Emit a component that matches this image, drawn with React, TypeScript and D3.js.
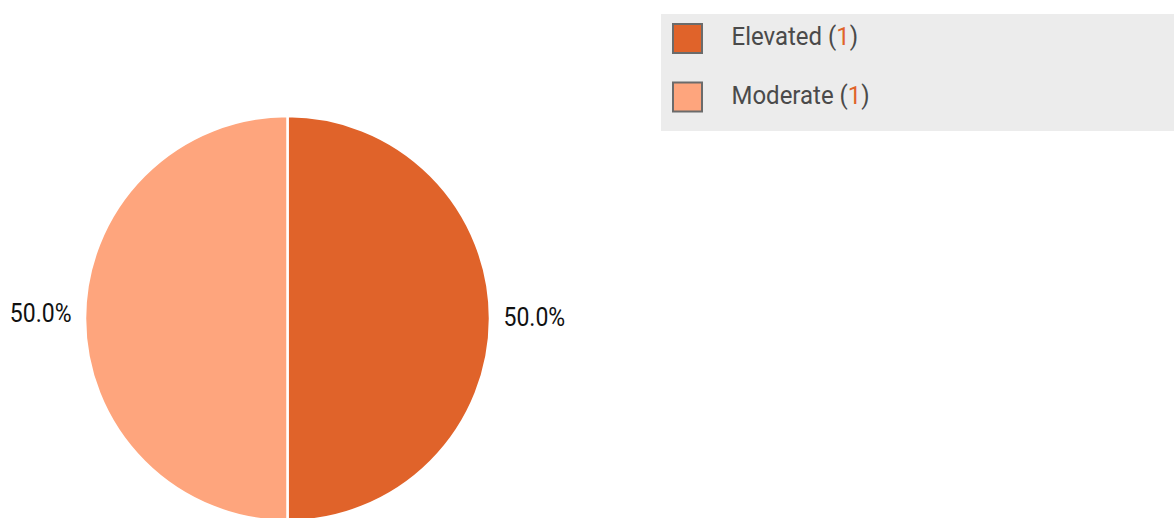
import React from "react";
import * as d3 from "d3";

const categories = ["Elevated", "Moderate"];
const values = [1, 1];
const colors = ["#e0632a", "#fea57d"];

const W = 1174;
const H = 518;
const FONT = "Roboto, 'Liberation Sans', sans-serif";
const SX = 0.885;
const LSX = 0.905;

export default function App() {
  const cx = 287.5;
  const cy = 318.5;
  const r = 202.5;
  const total = d3.sum(values);
  const pie = d3.pie<number>().sort(null).value((d) => d);
  const arcs = pie(values);
  const arc = d3.arc<d3.PieArcDatum<number>>().innerRadius(0).outerRadius(r);
  const fmt = d3.format(".1%");

  const legendY = d3.scalePoint<string>().domain(categories).range([38.5, 97]);

  return (
    <svg
      width={W}
      height={H}
      style={{ position: "absolute", left: 0, top: 0, background: "#fff" }}
    >
      <g transform={`translate(${cx},${cy})`}>
        {arcs.map((a, i) => (
          <path key={i} d={arc(a) || ""} fill={colors[i]} stroke="#fff" strokeWidth={2.5} />
        ))}
        {arcs.map((a, i) => {
          const mid = (a.startAngle + a.endAngle) / 2;
          const lr = r + 13.5;
          const x = Math.sin(mid) * lr;
          const y = -Math.cos(mid) * lr;
          const right = x >= 0;
          return (
            <text
              key={i}
              transform={`translate(${x},${y + (right ? 7.5 : 3.5)}) scale(${SX},1)`}
              textAnchor={right ? "start" : "end"}
              fontFamily={FONT}
              fontSize={26}
              fill="#111"
            >
              {fmt(a.data / total)}
            </text>
          );
        })}
      </g>
      <rect x={661} y={14} width={W - 661} height={117} fill="#ececec" />
      {categories.map((c, i) => {
        const y = legendY(c) as number;
        return (
          <g key={c}>
            <rect x={673} y={y - 14.5} width={29} height={29} fill={colors[i]} stroke="#6b6b6b" strokeWidth={2} />
            <text
              transform={`translate(731.5,${y + 6.5}) scale(${LSX},1)`}
              fontFamily={FONT}
              fontSize={26.5}
              fill="#4a4a4a"
            >
              {c} (<tspan fill={colors[0]}>{values[i]}</tspan>)
            </text>
          </g>
        );
      })}
    </svg>
  );
}
